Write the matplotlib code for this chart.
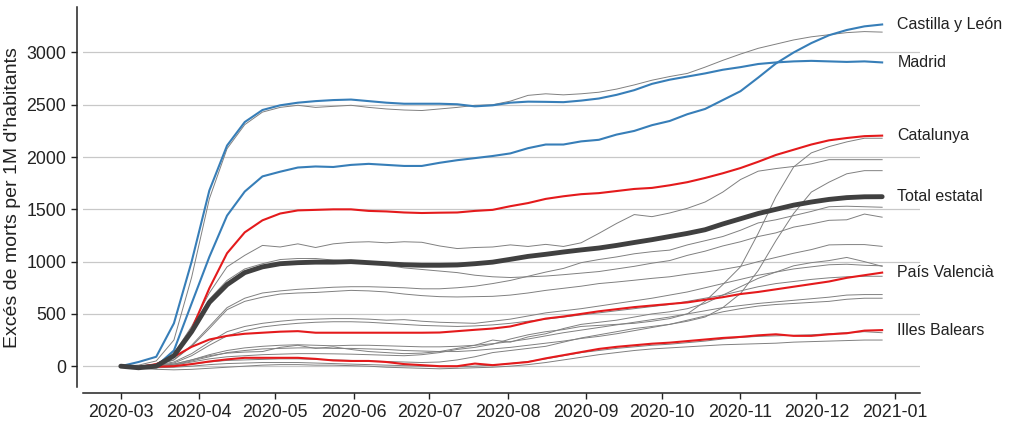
import numpy as np
import pandas as pd
import matplotlib
matplotlib.use("Agg")
import matplotlib.pyplot as plt
import matplotlib.dates as mdates

plt.rcParams['font.family'] = ['Liberation Sans', 'DejaVu Sans']

dates = pd.date_range('2020-03-01', periods=44, freq='7D')

# highlighted series
madrid = [0, 40, 90, 410, 1000, 1680, 2110, 2335, 2450, 2495, 2520, 2535, 2545, 2550, 2535,
          2520, 2510, 2510, 2510, 2505, 2485, 2495, 2520, 2530, 2528, 2525, 2540, 2560, 2595,
          2640, 2700, 2740, 2770, 2800, 2835, 2860, 2890, 2905, 2915, 2920, 2915, 2910, 2915, 2905]
cyl = [0, -10, 0, 150, 600, 1045, 1440, 1670, 1815, 1860, 1900, 1910, 1905, 1925, 1935,
       1925, 1915, 1915, 1945, 1970, 1990, 2010, 2035, 2085, 2120, 2120, 2150, 2165, 2215,
       2250, 2305, 2345, 2410, 2460, 2545, 2630, 2760, 2895, 3000, 3090, 3165, 3215, 3250, 3268]
catalunya = [0, -10, 10, 100, 350, 745, 1080, 1280, 1395, 1460, 1490, 1495, 1500, 1500, 1485,
             1480, 1470, 1465, 1468, 1470, 1485, 1495, 1530, 1560, 1600, 1625, 1645, 1655, 1675,
             1695, 1705, 1730, 1760, 1800, 1845, 1895, 1955, 2020, 2070, 2120, 2160, 2182, 2200, 2205]
total = [0, -15, 0, 100, 330, 610, 780, 895, 950, 980, 990, 995, 995, 1000, 990,
         980, 970, 965, 965, 968, 980, 995, 1022, 1050, 1070, 1092, 1112, 1130, 1155,
         1183, 1210, 1240, 1270, 1305, 1360, 1410, 1460, 1500, 1540, 1570, 1595, 1612, 1620, 1621]
valencia = [0, -10, 20, 90, 185, 255, 290, 310, 320, 330, 335, 320, 320, 320, 320,
            320, 320, 320, 322, 335, 348, 360, 380, 420, 455, 475, 500, 525, 545,
            565, 580, 595, 610, 635, 660, 690, 710, 735, 760, 785, 810, 845, 870, 895]
balears = [0, -10, -5, 0, 20, 45, 65, 80, 80, 80, 80, 70, 55, 50, 50,
           40, 20, 10, 0, 0, 25, 10, 25, 40, 75, 105, 135, 165, 185,
           200, 215, 225, 240, 255, 270, 280, 295, 305, 290, 290, 305, 315, 340, 345]

# other regions (grey)
others = [
    [0, 10, 50, 250, 850, 1600, 2080, 2310, 2430, 2475, 2495, 2475, 2485, 2495, 2475,
     2460, 2450, 2445, 2460, 2475, 2495, 2500, 2535, 2590, 2605, 2595, 2605, 2620, 2650,
     2690, 2735, 2770, 2800, 2860, 2925, 2985, 3040, 3080, 3120, 3150, 3170, 3190, 3200, 3195],
    [0, 0, 20, 120, 380, 700, 950, 1060, 1155, 1140, 1170, 1135, 1170, 1185, 1190,
     1180, 1190, 1185, 1150, 1125, 1135, 1140, 1160, 1145, 1165, 1145, 1180, 1270, 1365,
     1450, 1430, 1465, 1510, 1570, 1665, 1785, 1865, 1890, 1910, 1935, 1975, 1975, 1975, 1975],
    [0, 0, 10, 60, 200, 380, 560, 650, 700, 720, 735, 745, 755, 760, 760,
     755, 750, 740, 740, 750, 765, 790, 820, 860, 900, 935, 990, 1020, 1045,
     1075, 1095, 1110, 1160, 1200, 1240, 1300, 1370, 1400, 1440, 1480, 1525, 1530, 1525, 1520],
    [0, 0, 20, 110, 350, 640, 820, 930, 980, 1020, 1030, 1030, 1015, 1005, 995,
     965, 940, 925, 910, 895, 870, 855, 848, 855, 862, 875, 890, 905, 930,
     955, 985, 1010, 1060, 1100, 1150, 1190, 1240, 1275, 1330, 1360, 1395, 1400, 1455, 1425],
    [0, 0, 10, 60, 190, 360, 540, 620, 660, 690, 700, 705, 715, 725, 720,
     710, 690, 675, 665, 662, 665, 668, 680, 700, 725, 745, 765, 790, 805,
     822, 840, 855, 880, 900, 925, 955, 1000, 1040, 1080, 1115, 1160, 1163, 1163, 1146],
    [0, 0, 10, 40, 120, 230, 330, 380, 410, 430, 445, 450, 455, 455, 450,
     440, 445, 430, 420, 415, 410, 430, 450, 480, 510, 530, 550, 575, 600,
     625, 650, 680, 710, 750, 790, 830, 870, 900, 930, 950, 970, 975, 965, 960],
    [0, 0, 5, 30, 100, 200, 290, 340, 375, 395, 410, 420, 425, 425, 420,
     410, 400, 390, 385, 380, 385, 395, 410, 430, 450, 470, 490, 510, 530,
     550, 570, 590, 620, 650, 680, 720, 760, 790, 810, 830, 845, 855, 860, 860],
    [0, -10, 0, 20, 60, 110, 150, 175, 190, 200, 205, 200, 195, 200, 200,
     195, 190, 185, 185, 190, 200, 215, 235, 260, 290, 320, 345, 370, 395,
     420, 445, 470, 500, 530, 560, 580, 600, 615, 630, 645, 660, 680, 685, 685],
    [0, -10, -5, 10, 50, 90, 130, 150, 165, 170, 175, 175, 170, 170, 165,
     160, 150, 145, 140, 140, 150, 165, 180, 200, 220, 240, 265, 285, 310,
     340, 370, 400, 440, 480, 520, 550, 575, 590, 600, 610, 620, 640, 650, 650],
    [0, -10, 0, 20, 60, 100, 125, 135, 140, 180, 200, 170, 185, 160, 140,
     130, 120, 125, 140, 170, 200, 250, 230, 280, 310, 360, 400, 420, 440,
     470, 500, 520, 550, 600, 680, 760, 840, 900, 960, 990, 1010, 1040, 1000, 955],
    [0, -10, -5, 10, 40, 70, 90, 100, 110, 115, 120, 120, 118, 115, 110,
     105, 100, 110, 130, 160, 180, 210, 260, 300, 330, 350, 380, 390, 400,
     410, 430, 455, 500, 620, 780, 950, 1270, 1620, 1905, 2040, 2100, 2145, 2180, 2180],
    [0, -10, -10, 0, 20, 40, 55, 60, 65, 70, 70, 65, 60, 55, 50,
     45, 40, 35, 40, 60, 90, 130, 150, 170, 190, 230, 270, 300, 330,
     360, 380, 400, 430, 470, 560, 695, 915, 1200, 1460, 1665, 1760, 1840, 1870, 1870],
    [0, -10, -15, -10, 0, 15, 25, 30, 35, 35, 35, 30, 25, 20, 15,
     10, 5, 0, -5, -5, 0, 10, 25, 45, 70, 100, 130, 150, 170,
     185, 200, 210, 225, 240, 260, 275, 285, 290, 295, 300, 310, 320, 330, 320],
    [0, -20, -30, -35, -30, -20, -10, 0, 10, 15, 15, 10, 10, 5, 0,
     -10, -15, -20, -25, -20, -15, -10, 0, 15, 35, 60, 85, 110, 130,
     150, 165, 175, 185, 195, 205, 210, 215, 220, 230, 235, 240, 245, 250, 250],
]

highlighted = [
    ('Castilla y León', cyl, '#377eb8'),
    ('Madrid', madrid, '#377eb8'),
    ('Catalunya', catalunya, '#e41a1c'),
    ('País Valencià', valencia, '#e41a1c'),
    ('Illes Balears', balears, '#e41a1c'),
]

fig = plt.figure(figsize=(10.09, 4.24), dpi=100)
ax = fig.add_axes([0.082, 0.087, 0.83, 0.896])

for serie in others:
    ax.plot(dates, serie, color='#808080', lw=0.7, zorder=2)

for name, serie, col in highlighted:
    ax.plot(dates, serie, color=col, lw=1.5, zorder=3)
    ax.annotate(name, xy=(dates[-1], serie[-1]), xytext=(11, 0), textcoords='offset points',
                va='center', ha='left', fontsize=11.5, color='#222222')

ax.plot(dates, total, color='#404040', lw=3.5, zorder=4, solid_capstyle='round')
ax.annotate('Total estatal', xy=(dates[-1], total[-1]), xytext=(11, 0), textcoords='offset points',
            va='center', ha='left', fontsize=11.5, color='#222222')

ax.set_yticks([0, 500, 1000, 1500, 2000, 2500, 3000])
ax.yaxis.grid(True, color='#c8c8c8', lw=0.9)
ax.set_axisbelow(True)
ax.xaxis.set_major_locator(mdates.MonthLocator())
ax.xaxis.set_major_formatter(mdates.DateFormatter('%Y-%m'))
ax.tick_params(labelsize=12.8, colors='#222222', length=4.5, width=1)
ax.set_ylabel("Excés de morts per 1M d'habitants", fontsize=14, color='#222222')

for s in ['top', 'right']:
    ax.spines[s].set_visible(False)
for s in ['left', 'bottom']:
    ax.spines[s].set_position(('outward', 4))
    ax.spines[s].set_color('#222222')
    ax.spines[s].set_linewidth(1.1)

fig.savefig('out.png', dpi=100)
